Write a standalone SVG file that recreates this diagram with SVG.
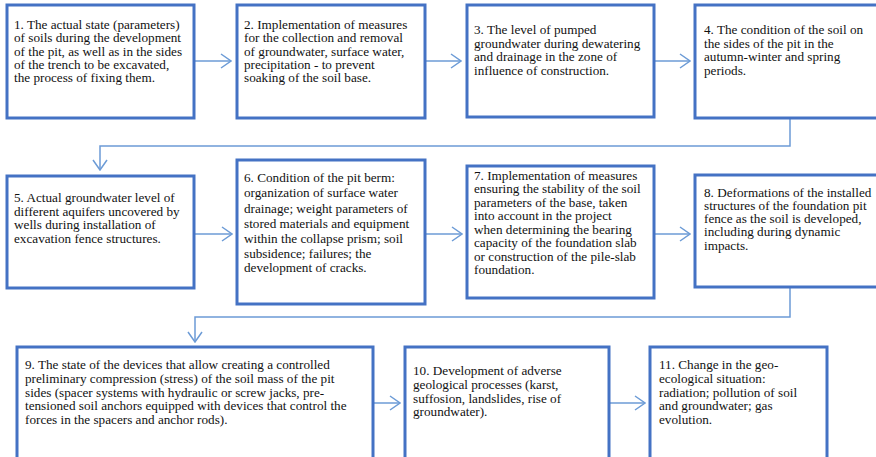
<svg xmlns="http://www.w3.org/2000/svg" width="876" height="457" viewBox="0 0 876 457">
<style>
.box{fill:#ffffff;stroke:#4472C4;stroke-width:3}
.t{font-family:'Liberation Serif','DejaVu Serif',serif;font-size:13.2px;fill:#111111}
.c{fill:none;stroke:#6C9BD6;stroke-width:1.5}
</style>
<defs>
<marker id="arr" viewBox="0 0 12 16" refX="11" refY="8" markerWidth="12" markerHeight="16" markerUnits="userSpaceOnUse" orient="auto">
<path d="M1,1 L11,8 L1,15" fill="none" stroke="#6C9BD6" stroke-width="1.5"/>
</marker>
</defs>
<rect width="876" height="457" fill="#ffffff"/>
<g id="connectors">
<path class="c" d="M194,61 H231" marker-end="url(#arr)"/>
<path class="c" d="M425,61 H461" marker-end="url(#arr)"/>
<path class="c" d="M654,61 H690" marker-end="url(#arr)"/>
<path class="c" d="M790,118 V146 H100 V170" marker-end="url(#arr)"/>
<path class="c" d="M194,234 H232" marker-end="url(#arr)"/>
<path class="c" d="M425,234 H462" marker-end="url(#arr)"/>
<path class="c" d="M654,234 H690" marker-end="url(#arr)"/>
<path class="c" d="M790,287 V317 H195 V342" marker-end="url(#arr)"/>
<path class="c" d="M373,403 H400" marker-end="url(#arr)"/>
<path class="c" d="M609,403 H645" marker-end="url(#arr)"/>
</g>
<g id="n1" font-family="Liberation Serif, serif">
<rect class="box" x="7" y="5" width="187" height="113"/>
<text class="t" x="14" y="29">1. The actual state (parameters)</text>
<text class="t" x="14" y="42.3">of soils during the development</text>
<text class="t" x="14" y="55.6">of the pit, as well as in the sides</text>
<text class="t" x="14" y="68.9">of the trench to be excavated,</text>
<text class="t" x="14" y="82.2">the process of fixing them.</text>
</g>
<g id="n2" font-family="Liberation Serif, serif">
<rect class="box" x="237" y="5" width="188" height="113"/>
<text class="t" x="244" y="29">2. Implementation of measures</text>
<text class="t" x="244" y="42.3">for the collection and removal</text>
<text class="t" x="244" y="55.6">of groundwater, surface water,</text>
<text class="t" x="244" y="69">precipitation - to prevent</text>
<text class="t" x="244" y="82.3">soaking of the soil base.</text>
</g>
<g id="n3" font-family="Liberation Serif, serif">
<rect class="box" x="467" y="5" width="187" height="112"/>
<text class="t" x="474" y="34">3. The level of pumped</text>
<text class="t" x="474" y="47.7">groundwater during dewatering</text>
<text class="t" x="474" y="61.4">and drainage in the zone of</text>
<text class="t" x="474" y="75">influence of construction.</text>
</g>
<g id="n4" font-family="Liberation Serif, serif">
<rect class="box" x="695" y="5" width="200" height="113"/>
<text class="t" x="704" y="34">4. The condition of the soil on</text>
<text class="t" x="704" y="47.7">the sides of the pit in the</text>
<text class="t" x="704" y="61.4">autumn-winter and spring</text>
<text class="t" x="704" y="75">periods.</text>
</g>
<g id="n5" font-family="Liberation Serif, serif">
<rect class="box" x="7" y="176" width="187" height="112"/>
<text class="t" x="14" y="202">5. Actual groundwater level of</text>
<text class="t" x="14" y="215.5">different aquifers uncovered by</text>
<text class="t" x="14" y="229">wells during installation of</text>
<text class="t" x="14" y="242.5">excavation fence structures.</text>
</g>
<g id="n6" font-family="Liberation Serif, serif">
<rect class="box" x="237" y="160" width="188" height="144"/>
<text class="t" x="244" y="182">6. Condition of the pit berm:</text>
<text class="t" x="244" y="197">organization of surface water</text>
<text class="t" x="244" y="212.5">drainage; weight parameters of</text>
<text class="t" x="244" y="227.5">stored materials and equipment</text>
<text class="t" x="244" y="242.5">within the collapse prism; soil</text>
<text class="t" x="244" y="257.5">subsidence; failures; the</text>
<text class="t" x="244" y="272">development of cracks.</text>
</g>
<g id="n7" font-family="Liberation Serif, serif">
<rect class="box" x="467" y="166" width="187" height="132"/>
<text class="t" x="474" y="180">7. Implementation of measures</text>
<text class="t" x="474" y="193.3">ensuring the stability of the soil</text>
<text class="t" x="474" y="206.7">parameters of the base, taken</text>
<text class="t" x="474" y="220">into account in the project</text>
<text class="t" x="474" y="233.5">when determining the bearing</text>
<text class="t" x="474" y="247">capacity of the foundation slab</text>
<text class="t" x="474" y="260.5">or construction of the pile-slab</text>
<text class="t" x="474" y="274">foundation.</text>
</g>
<g id="n8" font-family="Liberation Serif, serif">
<rect class="box" x="695" y="175" width="200" height="112"/>
<text class="t" x="704" y="196.5">8. Deformations of the installed</text>
<text class="t" x="704" y="209.8">structures of the foundation pit</text>
<text class="t" x="704" y="223.1">fence as the soil is developed,</text>
<text class="t" x="704" y="236.4">including during dynamic</text>
<text class="t" x="704" y="249.7">impacts.</text>
</g>
<g id="n9" font-family="Liberation Serif, serif">
<rect class="box" x="17" y="347" width="356" height="130"/>
<text class="t" x="25" y="369">9. The state of the devices that allow creating a controlled</text>
<text class="t" x="25" y="383">preliminary compression (stress) of the soil mass of the pit</text>
<text class="t" x="25" y="396.5">sides (spacer systems with hydraulic or screw jacks, pre-</text>
<text class="t" x="25" y="410">tensioned soil anchors equipped with devices that control the</text>
<text class="t" x="25" y="423.5">forces in the spacers and anchor rods).</text>
</g>
<g id="n10" font-family="Liberation Serif, serif">
<rect class="box" x="405" y="347" width="204" height="130"/>
<text class="t" x="413" y="375">10. Development of adverse</text>
<text class="t" x="413" y="389">geological processes (karst,</text>
<text class="t" x="413" y="402.5">suffosion, landslides, rise of</text>
<text class="t" x="413" y="416">groundwater).</text>
</g>
<g id="n11" font-family="Liberation Serif, serif">
<rect class="box" x="650" y="347" width="177" height="130"/>
<text class="t" x="659" y="369">11. Change in the geo-</text>
<text class="t" x="659" y="383">ecological situation:</text>
<text class="t" x="659" y="396.5">radiation; pollution of soil</text>
<text class="t" x="659" y="410">and groundwater; gas</text>
<text class="t" x="659" y="423.5">evolution.</text>
</g>
</svg>
